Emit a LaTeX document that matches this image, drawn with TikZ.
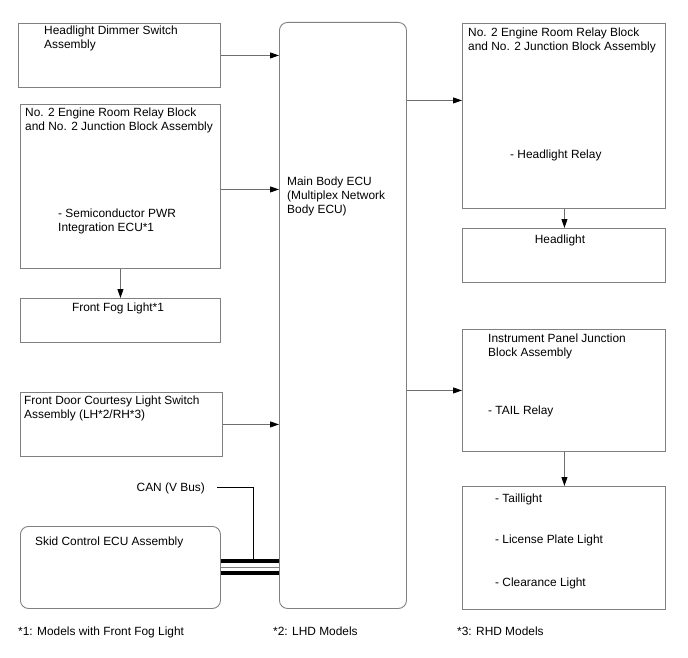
\documentclass[tikz,border=0pt]{standalone}
\usepackage{fontspec}
\setmainfont{Liberation Sans}
\usetikzlibrary{arrows.meta,calc}
\definecolor{boxgray}{RGB}{128,128,128}
\definecolor{linegray}{RGB}{110,110,110}
\tikzset{
  box/.style={draw=boxgray, line width=0.9pt, rectangle, inner sep=0pt, anchor=north west},
  rbox/.style={box, rounded corners=8pt},
  txt/.style={inner sep=0pt, anchor=base west, align=left, font=\fontsize{11.9}{14}\selectfont},
  ctxt/.style={inner sep=0pt, anchor=base, font=\fontsize{11.9}{14}\selectfont},
  arr/.style={draw=linegray, line width=0.8pt, -{Triangle[length=9pt,width=6pt,color=black]}},
  bus/.style={line width=4pt, black},
}
\begin{document}
\begin{tikzpicture}[x=1pt,y=-1pt]
\useasboundingbox (0,0) rectangle (688,658);
% boxes
\node[box, minimum width=202pt, minimum height=64pt] (hds) at (18,23) {};
\node[box, minimum width=200pt, minimum height=164pt] (ln2) at (20,104) {};
\node[box, minimum width=200pt, minimum height=44pt] (fog) at (20,298) {};
\node[box, minimum width=202pt, minimum height=64pt] (door) at (20,392) {};
\node[rbox, minimum width=200pt, minimum height=82pt] (skid) at (20,526) {};
\node[rbox, minimum width=127pt, minimum height=586pt] (main) at (279,22) {};
\node[box, minimum width=203pt, minimum height=185pt] (rn2) at (462,23) {};
\node[box, minimum width=203pt, minimum height=54pt] (head) at (462,228) {};
\node[box, minimum width=203pt, minimum height=122pt] (ipj) at (462,329) {};
\node[box, minimum width=203pt, minimum height=123pt] (tail) at (462,486) {};
% texts (base anchor = baseline of last line)
\node[txt] (t1) at (44,49) {Headlight Dimmer Switch\\Assembly};
\node[txt] (t2) at (25,131) {No. 2 Engine Room Relay Block\\and No. 2 Junction Block Assembly};
\node[txt] (t3) at (58,231) {- Semiconductor PWR\\Integration ECU*1};
\node[ctxt] (t4) at (118,311) {Front Fog Light*1};
\node[txt] (t5) at (24,418) {Front Door Courtesy Light Switch\\Assembly (LH*2/RH*3)};
\node[txt] (t6) at (35,545) {Skid Control ECU Assembly};
\node[txt] (t7) at (287,213) {Main Body ECU\\(Multiplex Network\\Body ECU)};
\node[inner sep=0pt, anchor=base east, font=\fontsize{11.9}{14}\selectfont] (can) at (205,491) {CAN (V Bus)};
\node[txt] (t8) at (468,51) {No. 2 Engine Room Relay Block\\and No. 2 Junction Block Assembly};
\node[txt] (t9) at (510,159) {- Headlight Relay};
\node[ctxt] (t10) at (560,243) {Headlight};
\node[txt] (t11) at (488,356) {Instrument Panel Junction\\Block Assembly};
\node[txt] (t12) at (488,414) {- TAIL Relay};
\node[txt] (t13) at (495,502) {- Taillight};
\node[txt] (t14) at (495,543) {- License Plate Light};
\node[txt] (t15) at (495,586) {- Clearance Light};
\node[txt] (f1) at (18,635) {*1: Models with Front Fog Light};
\node[txt] (f2) at (273,635) {*2: LHD Models};
\node[txt] (f3) at (457,635) {*3: RHD Models};
% arrows
\draw[arr] (hds.east) -- (hds.east -| main.west);
\draw[arr] ($(ln2.east)+(0,3)$) -- ($(ln2.east -| main.west)+(0,3)$);
\draw[arr] (door.east) -- (door.east -| main.west);
\draw[arr] (ln2.south -| fog.north) -- (fog.north);
\draw[arr] ($(main.east |- rn2.center)+(0,-15.5)$) -- ($(rn2.west)+(0,-15.5)$);
\draw[arr] (main.east |- ipj.west) -- (ipj.west);
\draw[arr] ($(rn2.south)+(0.5,0)$) -- ($(head.north)+(0.5,0)$);
\draw[arr] ($(ipj.south)+(0.5,0)$) -- ($(tail.north)+(0.5,0)$);
% CAN bus
\coordinate (busjoin) at (253,559);
\draw[bus] (skid.east |- 0,561) -- (main.west |- 0,561);
\draw[bus] (skid.east |- 0,573) -- (main.west |- 0,573);
\draw[boxgray, line width=0.8pt] (skid.east |- 0,567) -- (main.west |- 0,567);
\draw[black, line width=1pt] ([xshift=12pt]can.east) -| (busjoin);
\end{tikzpicture}
\end{document}
